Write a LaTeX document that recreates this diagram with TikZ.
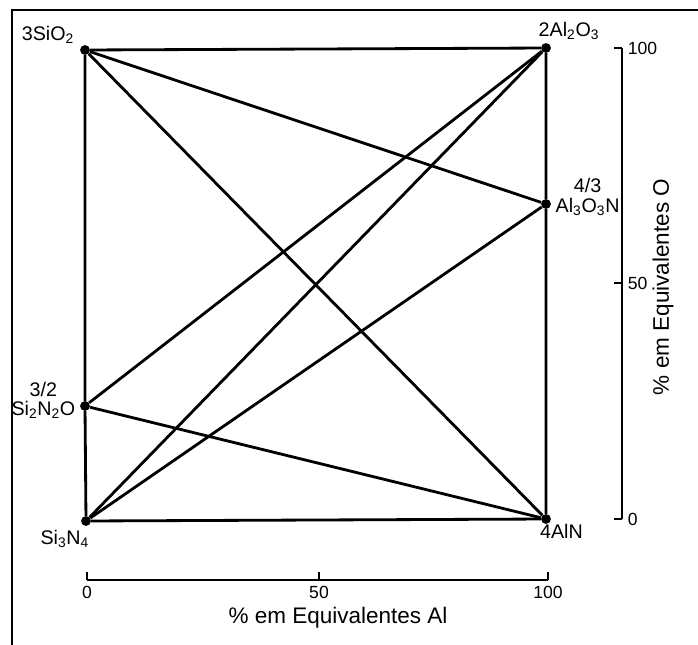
\documentclass[tikz,border=0pt]{standalone}
\usepackage{fontspec}
\setmainfont{Liberation Sans}
\usetikzlibrary{positioning}
\newcommand{\sbs}[1]{\textsubscript{#1}}
\begin{document}
\begin{tikzpicture}[x=0.025cm,y=-0.025cm,
    ponto/.style={circle,fill=black,inner sep=0pt,minimum size=7pt},
    linha/.style={line width=2pt},
    eixo/.style={line width=1.4pt},
    rotulo/.style={font=\fontsize{14}{14}\selectfont,inner sep=1pt,align=center},
    numero/.style={font=\fontsize{12.5}{14}\selectfont,inner sep=1pt},
    titulo/.style={font=\fontsize{16}{18}\selectfont,inner sep=0pt}]
    \useasboundingbox (0,0) rectangle (698,645);

    % Moldura
    \draw[eixo] (12,645) -- (12,10) -- (698,10);

    % Vértices do diagrama
    \node[ponto] (sio)  at (85,50)   {};
    \node[ponto] (alo)  at (546,48)  {};
    \node[ponto] (alon) at (546,204) {};
    \node[ponto] (aln)  at (546,519) {};
    \node[ponto] (sin)  at (86,521)  {};
    \node[ponto] (sino) at (85,406)  {};

    % Rótulos dos compostos
    \node[rotulo,above left=1pt and 4pt of sio] {3SiO\sbs{2}};
    \node[rotulo,above right=2pt and -9pt of alo] {2Al\sbs{2}O\sbs{3}};
    \node[rotulo,right=2pt of alon,yshift=5pt] {4/3\\Al\sbs{3}O\sbs{3}N};
    \node[rotulo,left=2pt of sino,yshift=4pt] {3/2\\Si\sbs{2}N\sbs{2}O};
    \node[rotulo,below left=3pt and -6pt of sin] {Si\sbs{3}N\sbs{4}};
    \node[rotulo,below right=0pt and -8pt of aln] {4AlN};

    % Lados do quadrado
    \draw[linha] (sio) -- (alo) -- (alon) -- (aln) -- (sin) -- (sino) -- (sio);

    % Linhas de ligação
    \draw[linha] (sio) -- (alon);
    \draw[linha] (sio) -- (aln);
    \draw[linha] (alo) -- (sino);
    \draw[linha] (alo) -- (sin);
    \draw[linha] (sin) -- (alon);
    \draw[linha] (sino) -- (aln);

    % Eixo vertical (O)
    \coordinate (o100) at (622,48);
    \coordinate (o50)  at (622,283);
    \coordinate (o0)   at (622,519);
    \draw[eixo] (o100) -- (o0);
    \foreach \t/\v in {o100/100,o50/50,o0/0}
    {
        \draw[eixo] (\t) -- ++(-8,0);
        \node[numero,anchor=west,xshift=3pt] at (\t) {\v};
    }
    \node[titulo,rotate=90] at (663,287) {\% em Equivalentes O};

    % Eixo horizontal (Al)
    \coordinate (a0)   at (87,580);
    \coordinate (a50)  at (319,580);
    \coordinate (a100) at (548,580);
    \draw[eixo] (a0) -- (a100);
    \foreach \t/\v in {a0/0,a50/50,a100/100}
    {
        \draw[eixo] (\t) -- ++(0,-8);
        \node[numero,anchor=north,yshift=-3pt] at (\t) {\v};
    }
    \node[titulo] at (338,618) {\% em Equivalentes Al};

\end{tikzpicture}
\end{document}
